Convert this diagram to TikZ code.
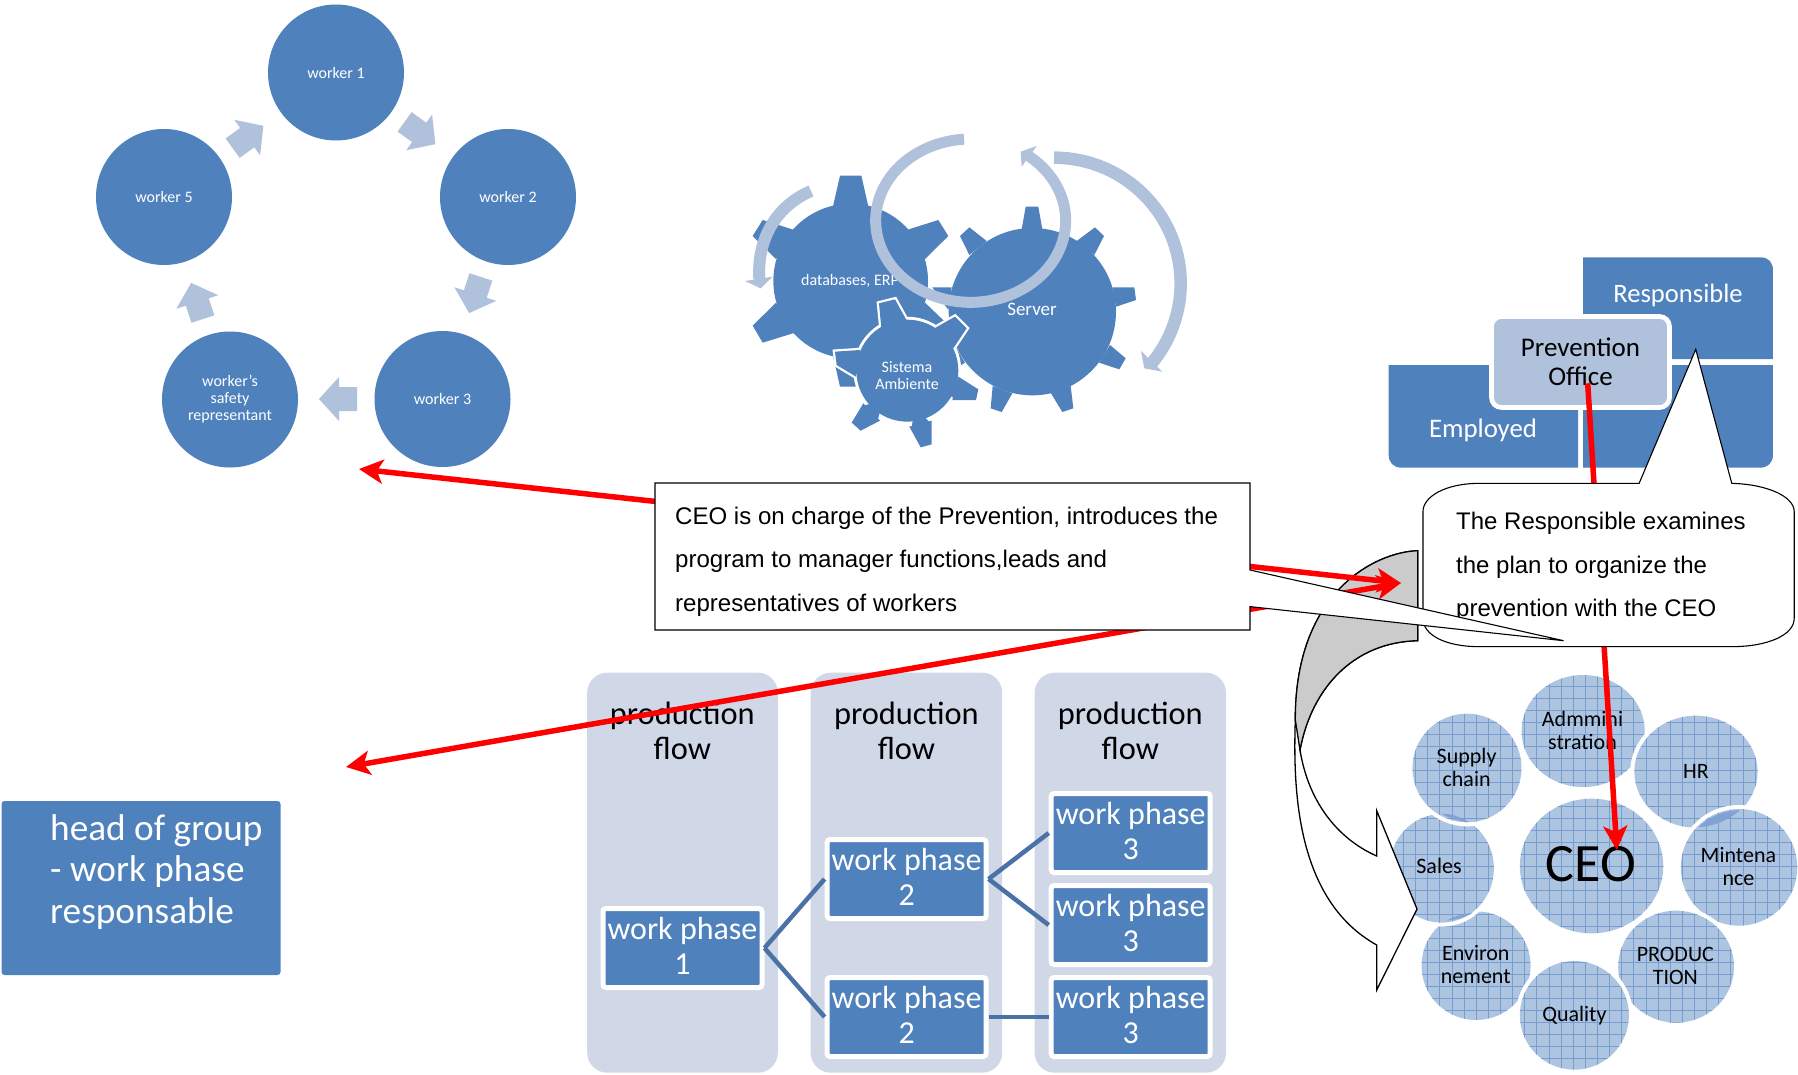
\documentclass[tikz,border=0pt]{standalone}
\usepackage{fontspec}
\setmainfont{Carlito}
\newfontfamily\arialfont{Liberation Sans}
\usetikzlibrary{arrows.meta}
\definecolor{mainblue}{HTML}{4F81BD}
\definecolor{lightarc}{HTML}{B0C1DC}
\definecolor{colbg}{HTML}{D0D8E8}
\definecolor{linkblue}{HTML}{4A72A6}
\definecolor{bubbase}{HTML}{AEC5E2}
\definecolor{bubgrid}{HTML}{769DCE}
\definecolor{patchblue}{HTML}{7FA3D2}
\definecolor{grayface}{HTML}{CBCBCB}
\newcommand{\fsz}[2]{\fontsize{#1pt}{#2pt}\selectfont}
\newcommand{\phasetxt}[1]{\raisebox{0pt}[\dimexpr\height+4.6pt\relax]{\begin{tabular}{@{}c@{}}work phase\\#1\end{tabular}}}
\tikzset{
  workerc/.style={circle,fill=mainblue,text=white,minimum size=136pt,inner sep=0pt,align=center,font=\fsz{16}{17}},
  gearlabel/.style={text=white,align=center,inner sep=0pt},
  arcline/.style={draw=lightarc,line cap=butt},
  archead/.style={fill=lightarc},
  flowcol/.style={fill=colbg,rounded corners=20pt},
  flowtitle/.style={align=center,inner sep=0pt,font=\fsz{32.4}{35}},
  phasebox/.style={rectangle,draw=white,line width=5pt,fill=mainblue,text=white,rounded corners=3pt,minimum width=159pt,minimum height=79pt,inner sep=0pt,font=\fsz{32}{34.6}},
  link/.style={draw=linkblue,line width=4.5pt},
  redline/.style={draw=red,line width=5.5pt},
  redhead/.style={-{Stealth[length=24pt,width=24pt,inset=6pt]}},
  callout/.style={draw=black,fill=white,line width=1.1pt,line join=miter},
  bubtext/.style={align=center,inner sep=0pt,text=black,font=\fsz{22}{23}},
}
\newcommand{\blockarr}[3]{\fill[lightarc,shift={(#1,#2)},rotate=#3] (-19,-12) -- (-1,-12) -- (-1,-22) -- (19,0) -- (-1,22) -- (-1,12) -- (-19,12) -- cycle;}
\newcommand{\bub}[4]{%
  \fill[white] (#1,#2) ellipse [x radius=#3pt+12pt,y radius=#4pt+12pt];
  \begin{scope}
    \clip (#1,#2) ellipse [x radius=#3pt,y radius=#4pt];
    \fill[bubbase] (#1-#3-5,#2-#4-5) rectangle (#1+#3+5,#2+#4+5);
    \foreach \gx in {0,36,...,1584}{\draw[bubgrid,line width=.45pt] (\gx,0) -- (\gx,1300);}
    \foreach \gy in {0,36,...,1296}{\draw[bubgrid,line width=.45pt] (0,\gy) -- (1600,\gy);}
  \end{scope}}
\newcommand{\gearwhite}[5]{\filldraw[draw=white,line width=4.5pt,line join=miter,fill=mainblue] #1 -- #2 -- #3 -- #4 -- #5 -- cycle;}
\begin{document}
\begin{tikzpicture}[x=1pt,y=-1pt]
\useasboundingbox (0,0) rectangle (1798,1074);
\fill[white] (0,0) rectangle (1798,1074);

% workers cycle
\node[workerc] (w1) at (336,72.5) {worker 1};
\node[workerc] (w2) at (508,197) {worker 2};
\node[workerc] (w3) at (442.5,399) {worker 3};
\node[workerc] (wr) at (230,399.5) {worker's\\safety\\representant};
\node[workerc] (w5) at (164,197) {worker 5};
\blockarr{420}{133}{-36}
\blockarr{475}{295}{-108}
\blockarr{338}{399}{180}
\blockarr{197}{301}{108}
\blockarr{248}{137}{36}

% gears
\begin{scope}[shift={(700,110)},scale=1/3]
  % gear 1
  \fill[mainblue] (452,513) circle [radius=232pt];
  \fill[mainblue] (397,298) -- (420,197) -- (484,197) -- (507,298) -- cycle;
  \fill[mainblue] (620,360) -- (715,330) -- (745,378) -- (675,447) -- cycle;
  \fill[mainblue] (675,578) -- (745,645) -- (715,695) -- (620,668) -- cycle;
  \fill[mainblue] (507,728) -- (484,830) -- (420,830) -- (397,728) -- cycle;
  \fill[mainblue] (285,668) -- (188,698) -- (158,647) -- (228,578) -- cycle;
  \fill[mainblue] (283,360) -- (188,330) -- (158,378) -- (228,447) -- cycle;
  % gear 2
  \fill[mainblue] (997,605) circle [radius=251pt];
  \fill[mainblue] (965,358) -- (977,290) -- (1015,290) -- (1027,358) -- cycle;
  \fill[mainblue] (1130,393) -- (1185,352) -- (1212,378) -- (1183,435) -- cycle;
  \fill[mainblue] (1238,532) -- (1303,532) -- (1308,570) -- (1248,590) -- cycle;
  \fill[mainblue] (1230,705) -- (1277,745) -- (1258,778) -- (1197,758) -- cycle;
  \fill[mainblue] (1112,828) -- (1120,895) -- (1087,906) -- (1053,850) -- cycle;
  \fill[mainblue] (937,850) -- (905,906) -- (872,895) -- (878,828) -- cycle;
  \fill[mainblue] (795,758) -- (760,780) -- (750,740) -- (760,700) -- cycle;
  \fill[mainblue] (755,532) -- (697,532) -- (745,600) -- cycle;
  \fill[mainblue] (808,435) -- (780,378) -- (808,352) -- (860,393) -- cycle;
  % gear 3 with white edge
  \filldraw[draw=white,line width=4.5pt,line join=round,fill=mainblue] (622,782) circle [radius=155pt];
  \gearwhite{(545,662)}{(537,580)}{(585,568)}{(622,635)}{(622,700)}
  \gearwhite{(703,655)}{(765,620)}{(800,655)}{(760,715)}{(700,760)}
  \gearwhite{(775,800)}{(835,838)}{(828,870)}{(757,870)}{(700,830)}
  \gearwhite{(695,932)}{(695,1003)}{(662,1012)}{(628,950)}{(640,880)}
  \gearwhite{(540,932)}{(482,962)}{(455,938)}{(490,880)}{(560,860)}
  \gearwhite{(468,800)}{(410,765)}{(405,725)}{(480,720)}{(540,760)}
  \fill[mainblue] (622,782) circle [radius=153pt];
  \fill[mainblue] (545,665) -- (537,580) -- (585,568) -- (622,635) -- cycle;
  \fill[mainblue] (703,655) -- (765,620) -- (800,655) -- (760,715) -- cycle;
  \fill[mainblue] (775,800) -- (835,838) -- (828,870) -- (757,870) -- cycle;
  \fill[mainblue] (695,932) -- (695,1003) -- (662,1012) -- (628,950) -- cycle;
  \fill[mainblue] (540,932) -- (482,962) -- (455,938) -- (490,880) -- cycle;
  \fill[mainblue] (468,800) -- (410,765) -- (405,725) -- (480,720) -- cycle;
\end{scope}
\node[gearlabel,font=\fsz{16}{17}] (gdb) at (850,281) {databases, ERP};
\node[gearlabel,font=\fsz{19}{19}] (gsrv) at (1032,309) {Server};
\node[gearlabel,font=\fsz{16}{17}] (gsys) at (907,376) {Sistema\\Ambiente};
\begin{scope}[shift={(700,110)},scale=1/3]
  \draw[arcline,line width=12pt] (333,243) .. controls (235,285) and (170,380) .. (178,508);
  \fill[archead] (135,513) -- (182,535) -- (218,500) -- cycle;
  \draw[arcline,line width=11pt] plot[smooth,domain=94:412,samples=90] ({812+285*cos(\x)},{332-245*sin(\x)});
  \fill[archead] (1010,108) -- (962,125) -- (965,170) -- cycle;
  \draw[arcline,line width=12.5pt] plot[smooth,domain=90:-40,samples=60] ({1062+380*cos(\x)},{520-377*sin(\x)});
  \fill[archead] (1323,723) -- (1333,775) -- (1387,785) -- cycle;
\end{scope}

% responsibility blocks
\begin{scope}[shift={(1260,240)},xscale=.3431,yscale=1/3]
  \fill[mainblue] (942,52) -- (1460,52) .. controls (1482,52) and (1495,68) .. (1495,90) -- (1495,357) -- (942,357) -- cycle;
  \fill[mainblue] (375,375) -- (927,375) -- (927,683) -- (412,683) .. controls (390,683) and (375,668) .. (375,645) -- cycle;
  \fill[mainblue] (942,375) -- (1495,375) -- (1495,645) .. controls (1495,668) and (1480,683) .. (1458,683) -- (942,683) -- cycle;
\end{scope}
\node[text=white,inner sep=0pt,font=\fsz{26.6}{27}] (resp) at (1678,295) {Responsible};
\node[text=white,inner sep=0pt,font=\fsz{26.8}{27}] (empl) at (1483,430) {Employed};
\node[draw=white,line width=4.7pt,fill=lightarc,rounded corners=10pt,minimum width=178pt,minimum height=91pt,inner sep=0pt,align=center,text=black,font=\fsz{27}{29}] (prev) at (1580.5,362) {Prevention\\Office};

% bubbles
\begin{scope}[shift={(1270,650)},xscale=.3367,yscale=1/3]
  \bub{612}{947}{162}{163}
  \bub{510}{655}{155}{163}
  \fill[patchblue] (525,812) .. controls (560,808) and (585,800) .. (602,788) .. controls (570,792) and (545,800) .. cycle;
  \bub{585}{354}{162}{163}
  \fill[patchblue] (510,492) .. controls (535,505) and (565,515) .. (590,516) .. controls (560,498) and (535,490) .. cycle;
  \bub{930}{243}{183}{168}
  \bub{1265}{365}{183}{168}
  \bub{1393}{652}{173}{175}
  \fill[patchblue] (1272,532) .. controls (1310,495) and (1350,482) .. (1396,480) .. controls (1365,510) and (1320,528) .. cycle;
  \bub{1206}{950}{172}{168}
  \bub{904}{1096}{162}{163}
  \bub{955}{648}{213}{202}
\end{scope}
\node[bubtext] (bsup) at (1466.6,767) {Supply\\chain};
\node[bubtext] (bsal) at (1439,866) {Sales};
\node[bubtext] (bcen) at (1475.8,964) {Environ\\nement};
\node[bubtext] (bqua) at (1574.4,1015.5) {Quality};
\node[bubtext] (bpro) at (1675.3,966) {PRODUC\\TION};
\node[bubtext] (bmin) at (1738.4,866) {Mintena\\nce};
\node[bubtext] (bhr) at (1696,771.7) {HR};
\node[bubtext] (badm) at (1582.5,730.5) {Admmini\\stration};
\node[bubtext,font=\fsz{54}{54}] (bceo) at (1591,864.5) {CEO};

% curved block arrow
\path[callout,draw=black,line width=1.3pt] (1417.8,550.7) .. controls (1377,552) and (1295,590) .. (1295.3,720) .. controls (1293,790) and (1296,900) .. (1376.7,945) -- (1376.7,990) -- (1417,909) -- (1376.7,810.7) -- (1376.7,856) .. controls (1336,838) and (1308,800) .. (1300,750) .. controls (1311,690) and (1352,642) .. (1417.8,640.7) -- cycle;
\filldraw[fill=grayface,draw=black,line width=1.3pt] (1417.8,550.7) .. controls (1377,552) and (1295,590) .. (1295.3,720) -- (1300,750) .. controls (1311,690) and (1352,642) .. (1417.8,640.7) -- cycle;

% production flow
\fill[flowcol] (587.2,672.7) rectangle (777.8,1072.7);
\fill[flowcol] (810.7,672.7) rectangle (1002.2,1072.7);
\fill[flowcol] (1034.6,672.7) rectangle (1226,1072.7);
\node[flowtitle] (t1) at (682.3,731) {production\\flow};
\node[flowtitle] (t2) at (906.4,731) {production\\flow};
\node[flowtitle] (t3) at (1130.3,731) {production\\flow};
\node[phasebox] (p1) at (682.5,948) {\phasetxt{1}};
\node[phasebox] (p2a) at (906.6,879) {\phasetxt{2}};
\node[phasebox] (p2b) at (906.6,1017) {\phasetxt{2}};
\node[phasebox] (p3a) at (1130.7,833) {\phasetxt{3}};
\node[phasebox] (p3b) at (1130.7,925) {\phasetxt{3}};
\node[phasebox] (p3c) at (1130.7,1017) {\phasetxt{3}};
\draw[link] (p1.east) -- (p2a.west);
\draw[link] (p1.east) -- (p2b.west);
\draw[link] (p2a.east) -- (p3a.west);
\draw[link] (p2a.east) -- (p3b.west);
\draw[link] (p2b.east) -- (p3c.west);

% head of group
\node[rectangle,fill=mainblue,rounded corners=3pt,minimum width=279pt,minimum height=174pt,inner sep=0pt] (head) at (141,888) {};
\node[anchor=west,inner sep=0pt,text=white,align=left,font=\fsz{37.3}{41.3}] (headt) at (50,871.8) {head of group\\- work phase\\responsable};

% red connectors
\coordinate (rA) at (359,469);
\coordinate (rB) at (346,767);
\coordinate (rC) at (1401,583);
\coordinate (rD) at (1587.7,383.3);
\coordinate (rE) at (1616.8,850);
\draw[redline,redhead] (rD) -- (rE);
\draw[redline,{Stealth[length=24pt,width=24pt,inset=6pt]}-{Stealth[length=24pt,width=24pt,inset=6pt]}] (rA) -- (rC);
\draw[redline,{Stealth[length=24pt,width=24pt,inset=6pt]}-{Stealth[length=24pt,width=24pt,inset=6pt]}] (rB) -- (rC);

% callouts
\begin{scope}[shift={(1260,240)},xscale=.3431,yscale=1/3]
  \path[callout] (1105,730) -- (1270,328) -- (1375,730) .. controls (1480,733) and (1557,770) .. (1557,815) -- (1557,1135) .. controls (1557,1185) and (1480,1220) .. (1375,1220) -- (640,1220) .. controls (540,1220) and (475,1185) .. (475,1135) -- (475,815) .. controls (475,770) and (540,730) .. (640,730) -- cycle;
\end{scope}
\node[anchor=west,inner sep=0pt,align=left,text=black,font=\arialfont\fsz{24}{43.5}] (c2t) at (1456,567) {The Responsible examines\\the plan to organize the\\prevention with the CEO};
\path[callout] (655,483) -- (1250,483) -- (1250,570) -- (1563.6,640.7) -- (1250,606.6) -- (1250,630) -- (655,630) -- cycle;
\node[anchor=west,inner sep=0pt,align=left,text=black,font=\arialfont\fsz{24.05}{43.5}] (c1t) at (675,561.5) {CEO is on charge of the Prevention, introduces the\\program to manager functions,leads and\\representatives of workers};
\end{tikzpicture}
\end{document}
